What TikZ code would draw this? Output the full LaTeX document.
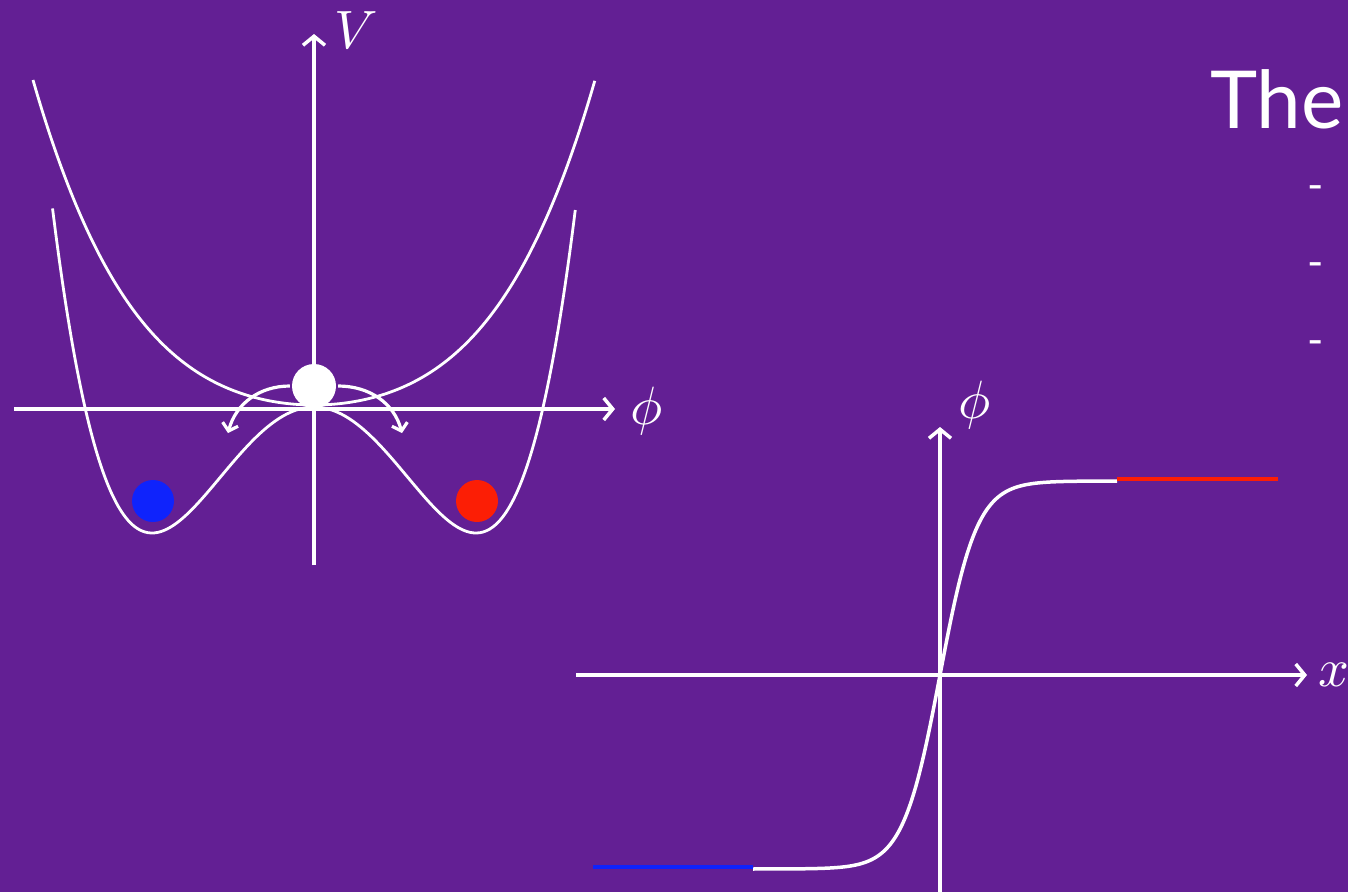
\documentclass[tikz,border=0pt]{standalone}
\usepackage{fontspec}
\setmainfont{Lato}
\usetikzlibrary{arrows.meta}
\definecolor{bgpurple}{RGB}{99,31,148}
\definecolor{ballblue}{RGB}{15,35,252}
\definecolor{ballred}{RGB}{252,30,5}
\newcommand{\biglbl}[1]{\scalebox{5.4}{$#1$}}
\tikzset{
  axis/.style={white, line width=3.5pt, -{Straight Barb[length=9pt,width=22pt,line width=3.5pt]}},
  curve/.style={white, line width=2.8pt},
  kick/.style={white, line width=3.2pt, -{Straight Barb[length=7pt,width=16pt,line width=3.2pt]}},
  ball/.style={circle, inner sep=0pt, minimum size=42pt},
  mathlbl/.style={white, inner sep=0pt},
  bulletdash/.style={white, font=\fontsize{44}{46}\selectfont, inner sep=0pt}
}
\begin{document}
\begin{tikzpicture}[x=1pt,y=-1pt]
\useasboundingbox (0,0) rectangle (1348,892);
\fill[bgpurple] (0,0) rectangle (1348,892);
\clip (0,0) rectangle (1348,892);
% left potential plot
\coordinate (hL) at (14,409);
\coordinate (hR) at (615,409);
\coordinate (vB) at (314,565);
\coordinate (vT) at (314,34);
\draw[axis] (hL) -- (hR);
\draw[axis] (vB) -- (vT);
\node[mathlbl, anchor=base] (Vl) at (356,48) {\biglbl{V}};
\node[mathlbl, anchor=base] (phl) at (647,424) {\biglbl{\phi}};
% upper curve (symmetric phase)
\draw[curve, domain=-1:1, samples=120, smooth, variable=\t]
  plot ({314+281*\t}, {405-325*(0.5*\t*\t+0.5*\t*\t*\t*\t)});
% double well
\draw[curve, domain=-1.614:1.614, samples=160, smooth, variable=\t]
  plot ({314+162*\t}, {533-126*(\t*\t-1)*(\t*\t-1)});
\node[ball, fill=ballblue] (bb) at (153,501) {};
\node[ball, fill=ballred] (rb) at (477,501) {};
\node[ball, fill=white, minimum size=44pt] (wb) at (314,386) {};
\coordinate (kl) at (228,433);
\coordinate (kr) at (402,433);
\draw[kick] (wb.west) ++(-2,0) to[out=180,in=75] (kl);
\draw[kick] (wb.east) ++(2,0) to[out=0,in=105] (kr);
% right kink plot
\coordinate (xL) at (576,675);
\coordinate (xR) at (1307,675);
\coordinate (yB) at (940,895);
\coordinate (yT) at (940,427);
\draw[axis] (xL) -- (xR);
\draw[axis] (yB) -- (yT);
\node[mathlbl, anchor=base] (phr) at (975,418) {\biglbl{\phi}};
\node[mathlbl, anchor=base west] (xl) at (1318,686) {\biglbl{x}};
\coordinate (k1) at (753,867);
\coordinate (k2) at (1117,479);
\draw[curve, line width=3.5pt, domain=753:1117, samples=200, smooth, variable=\x]
  plot ({\x}, {675-194*tanh((\x-940)/37)});
\coordinate (bl) at (593,867);
\coordinate (rr) at (1278,479);
\draw[ballblue, line width=4pt] (bl) -- (k1);
\draw[ballred, line width=4pt] (k2) -- (rr);
% text
\node[white, anchor=base west, inner sep=0pt, font=\fontsize{80}{90}\selectfont] (title) at (1210,128) {The};
\node[bulletdash] (d1) at (1316,193) {-};
\node[bulletdash] (d2) at (1316,270) {-};
\node[bulletdash] (d3) at (1316,348) {-};
\end{tikzpicture}
\end{document}
